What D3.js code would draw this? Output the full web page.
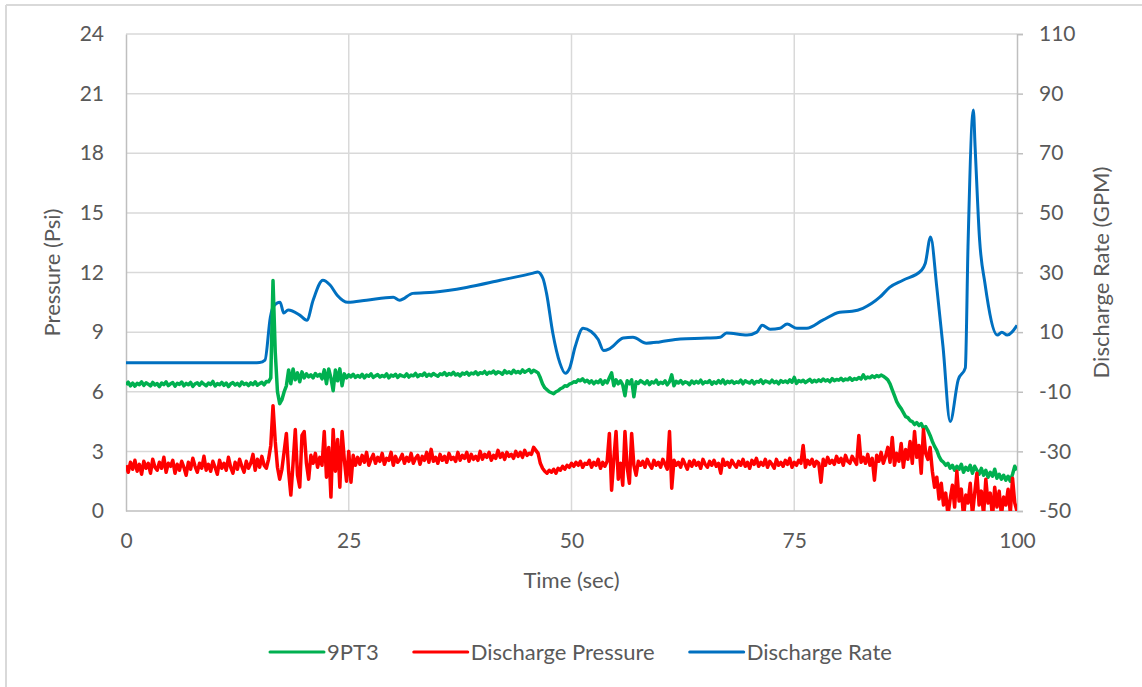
<!DOCTYPE html>
<html>
<head>
<meta charset="UTF-8">
<title>9PT3 / Discharge</title>
<script src="https://d3js.org/d3.v7.min.js"></script>
<style>
  body { margin: 0; background: #fff; }
  text { font-family: Lato, "Open Sans", sans-serif; fill: #595959; }
</style>
</head>
<body>
<div id="chart"></div>
<script>

// pressure samples, one every sampleStep seconds from t = 0 (8 per row = 2 s)
var sampleStep = 0.25;

var pt3 = [
  6.35, 6.48, 6.30, 6.44, 6.28, 6.42, 6.36, 6.50,
  6.32, 6.45, 6.38, 6.29, 6.47, 6.34, 6.41, 6.26,
  6.44, 6.36, 6.50, 6.31, 6.40, 6.46, 6.28, 6.43,
  6.37, 6.49, 6.30, 6.42, 6.35, 6.47, 6.27, 6.40,
  6.45, 6.33, 6.48, 6.38, 6.30, 6.44, 6.36, 6.52,
  6.29, 6.41, 6.35, 6.47, 6.32, 6.44, 6.26, 6.40,
  6.46, 6.34, 6.42, 6.30, 6.49, 6.37, 6.43, 6.31,
  6.45, 6.36, 6.50, 6.33, 6.41, 6.47, 6.35, 6.52,
  6.50, 6.70, 11.6, 8.00, 6.00, 5.40, 5.60, 6.00,
  6.30, 7.10, 6.40, 7.15, 6.60, 6.95, 6.50, 7.00,
  6.70, 6.90, 6.75, 6.85, 6.70, 6.92, 6.78, 6.88,
  6.65, 7.10, 6.40, 7.15, 6.70, 6.05, 7.10, 6.55,
  7.15, 6.30, 6.90, 6.70, 6.85, 6.75, 6.88, 6.72,
  6.82, 6.74, 6.88, 6.70, 6.84, 6.78, 6.90, 6.72,
  6.80, 6.86, 6.74, 6.82, 6.76, 6.90, 6.70, 6.84,
  6.78, 6.88, 6.72, 6.85, 6.80, 6.76, 6.90, 6.74,
  6.84, 6.80, 6.92, 6.76, 6.86, 6.82, 6.94, 6.78,
  6.88, 6.80, 6.92, 6.84, 6.78, 6.90, 6.86, 6.96,
  6.82, 6.92, 6.86, 6.98, 6.84, 6.90, 6.80, 6.94,
  6.88, 6.98, 6.84, 6.94, 6.90, 7.00, 6.86, 6.96,
  6.92, 7.02, 6.88, 6.98, 6.94, 7.04, 6.90, 7.00,
  6.96, 6.88, 7.06, 6.94, 7.00, 6.92, 7.08, 6.96,
  7.02, 6.94, 7.10, 6.98, 7.05, 7.12, 6.96, 7.08,
  7.02, 6.95, 6.70, 6.40, 6.20, 6.10, 6.00, 5.95,
  5.90, 6.00, 6.05, 6.15, 6.20, 6.30, 6.28, 6.38,
  6.42, 6.50, 6.48, 6.60, 6.55, 6.65, 6.50, 6.58,
  6.45, 6.55, 6.40, 6.52, 6.46, 6.60, 6.38, 6.55,
  6.45, 6.70, 6.95, 6.30, 6.60, 6.40, 6.55, 6.35,
  5.80, 6.55, 6.40, 6.60, 5.75, 6.50, 6.42, 6.56,
  6.48, 6.40, 6.55, 6.36, 6.50, 6.44, 6.58, 6.38,
  6.48, 6.42, 6.55, 6.35, 6.50, 6.85, 6.30, 6.52,
  6.44, 6.56, 6.40, 6.50, 6.46, 6.36, 6.54, 6.42,
  6.52, 6.44, 6.58, 6.40, 6.50, 6.46, 6.56, 6.38,
  6.50, 6.42, 6.56, 6.44, 6.60, 6.40, 6.52, 6.46,
  6.54, 6.42, 6.50, 6.46, 6.58, 6.40, 6.55, 6.48,
  6.44, 6.56, 6.40, 6.52, 6.48, 6.60, 6.42, 6.54,
  6.50, 6.44, 6.58, 6.46, 6.52, 6.40, 6.56, 6.48,
  6.54, 6.46, 6.60, 6.48, 6.72, 6.42, 6.56, 6.50,
  6.58, 6.46, 6.54, 6.62, 6.48, 6.58, 6.50, 6.60,
  6.52, 6.64, 6.54, 6.60, 6.50, 6.66, 6.56, 6.62,
  6.58, 6.68, 6.56, 6.64, 6.60, 6.70, 6.58, 6.66,
  6.62, 6.72, 6.64, 6.85, 6.66, 6.74, 6.70, 6.80,
  6.72, 6.82, 6.76, 6.84, 6.78, 6.70, 6.60, 6.40,
  6.10, 5.80, 5.50, 5.30, 5.15, 4.95, 4.75, 4.70,
  4.55, 4.50, 4.35, 4.45, 4.30, 4.40, 4.15, 4.25,
  4.05, 3.80, 3.50, 3.25, 3.05, 2.75, 2.55, 2.45,
  2.30, 2.40, 2.15, 2.30, 2.05, 2.25, 2.10, 2.35,
  1.95, 2.20, 2.05, 2.30, 1.90, 2.25, 2.05, 1.85,
  2.15, 1.80, 2.05, 1.70, 1.95, 1.75, 2.10, 1.65,
  1.85, 1.60, 1.80, 1.55, 1.75, 1.50, 1.85, 2.25,
  2.05
];

var dischargePressure = [
  2.30, 1.95, 2.45, 2.10, 2.55, 2.00, 2.35, 1.85,
  2.50, 2.15, 2.40, 1.90, 2.60, 2.20, 2.05, 2.45,
  2.15, 2.70, 1.95, 2.40, 2.25, 2.55, 1.90, 2.35,
  2.05, 2.50, 2.20, 1.80, 2.45, 2.10, 2.65, 2.25,
  1.95, 2.40, 2.15, 2.75, 2.05, 2.35, 2.00, 2.50,
  2.20, 1.85, 2.55, 2.15, 2.40, 2.05, 2.70, 2.20,
  1.90, 2.45, 2.10, 2.60, 2.25, 1.95, 2.50, 2.15,
  2.40, 2.85, 2.05, 2.60, 2.20, 2.75, 2.30, 2.15,
  2.60, 3.30, 5.30, 3.50, 2.20, 1.60, 2.10, 3.00,
  3.90, 2.00, 0.80, 2.40, 4.10, 1.80, 1.20, 3.80,
  4.00, 2.40, 1.60, 2.80, 2.40, 2.90, 2.20, 2.70,
  2.30, 4.00, 1.70, 3.20, 0.70, 4.10, 2.00, 3.60,
  1.20, 4.00, 2.60, 1.50, 3.00, 1.45, 2.80, 2.30,
  2.70, 2.35, 2.80, 2.45, 2.95, 2.30, 2.60, 2.85,
  2.40, 2.70, 2.50, 2.90, 2.35, 2.65, 2.55, 2.95,
  2.30, 2.75, 2.45, 2.60, 2.85, 2.40, 2.70, 2.50,
  2.90, 2.40, 2.65, 2.80, 2.35, 2.75, 2.55, 2.95,
  2.45, 3.10, 2.50, 2.70, 2.40, 2.85, 2.55, 2.75,
  2.45, 2.90, 2.60, 2.70, 2.50, 2.95, 2.55, 2.80,
  2.65, 2.95, 2.50, 2.85, 2.60, 2.75, 2.55, 3.00,
  2.60, 2.85, 2.70, 2.95, 2.55, 2.80, 2.65, 3.05,
  2.70, 2.90, 2.60, 2.95, 2.75, 2.85, 2.65, 3.00,
  2.75, 2.95, 2.70, 3.05, 2.80, 2.90, 2.85, 3.20,
  3.05, 2.90, 2.40, 2.15, 2.00, 1.90, 2.05, 1.95,
  2.10, 1.90, 2.15, 2.05, 2.25, 2.10, 2.30, 2.20,
  2.40, 2.25, 2.45, 2.30, 2.50, 2.20, 2.40, 2.35,
  2.55, 2.20, 2.45, 2.30, 2.60, 2.15, 2.45, 2.25,
  2.50, 3.90, 1.05, 2.60, 4.00, 1.60, 2.40, 1.30,
  4.00, 2.20, 1.40, 3.90, 2.30, 1.80, 2.50, 2.30,
  2.50, 2.20, 2.60, 2.35, 2.15, 2.55, 2.30, 2.45,
  2.20, 2.60, 2.35, 2.10, 4.00, 1.15, 2.55, 2.30,
  2.45, 2.20, 2.60, 2.35, 2.10, 2.50, 2.25, 2.55,
  2.30, 2.45, 2.15, 2.60, 2.35, 2.20, 2.50, 2.30,
  2.55, 2.25, 2.40, 1.90, 2.60, 2.30, 2.45, 2.20,
  2.55, 2.35, 2.20, 2.50, 2.30, 2.60, 2.25, 2.45,
  2.15, 2.55, 2.35, 2.65, 2.25, 2.45, 2.30, 2.60,
  2.20, 2.50, 2.35, 2.15, 2.60, 2.30, 2.45, 2.25,
  2.55, 2.35, 2.65, 2.20, 2.45, 2.30, 2.55, 2.40,
  3.30, 2.20, 2.55, 2.35, 2.60, 2.25, 2.50, 2.40,
  1.45, 2.60, 2.30, 2.70, 2.40, 2.55, 2.35, 2.75,
  2.45, 2.65, 2.30, 2.80, 2.50, 2.40, 2.75, 2.55,
  2.35, 3.80, 2.45, 2.70, 2.40, 2.85, 2.30, 2.65,
  1.55, 2.80, 2.50, 2.95, 2.40, 2.75, 3.20, 2.45,
  3.70, 2.30, 2.90, 2.50, 3.40, 2.20, 3.10, 2.60,
  3.50, 2.40, 4.00, 2.70, 3.30, 1.90, 4.10, 2.90,
  2.60, 3.20, 2.00, 1.20, 1.70, 0.60, 1.40, 0.30,
  0.90, -0.20, 0.60, 1.30, 0.20, 2.00, 0.50, 1.10,
  -0.30, 0.80, 0.40, 1.40, -0.20, 0.90, 1.90, 0.30,
  1.00, -0.20, 1.60, 0.40, 0.90, -0.30, 1.20, 0.20,
  1.00, -0.20, 0.70, 0.30, 1.10, -0.10, 1.65, 0.40,
  0.00
];

// discharge rate read at irregular times
var rateTime = [
  0, 5, 10, 14, 15, 15.6, 16.2, 16.5, 17.3, 17.7, 18.2, 19.5, 20.3, 21, 22.1, 22.9, 23.7, 24.9,
  27, 30, 30.7, 32.2, 34.5, 38.2, 42, 45.7, 46.2, 46.8, 47.2, 47.9, 48.7, 49.3, 49.8, 50.4,
  51.3, 52.2, 53, 53.6, 54.3, 55.8, 56.9, 58.4, 59.9, 62.2, 65.2, 66.7, 67.4, 69.7, 70.8,
  71.4, 72.3, 73.4, 74.2, 75.3, 76.4, 78.2, 80.1, 81.5, 82.7, 84.6, 85.7, 87.2, 89.3, 89.7,
  90.3, 91, 91.7, 92.5, 93.4, 94.2, 94.5, 95.1, 95.3, 95.8, 96.4, 97.8, 98.3, 98.9, 100
];
var rateGpm = [
  -0.3, -0.3, -0.3, -0.3, -0.2, 0.6, 15, 18.4, 20, 16.4, 17.4, 15.7, 14, 20.7, 27.4, 25.8, 22.4, 20,
  20.7, 21.7, 20.7, 23, 23.4, 25, 27.4, 29.8, 30.2, 28, 23, 9.7, -0.4, -3.8, -2, 5,
  11.3, 10.2, 7.5, 3.8, 4.5, 8, 8.3, 6.3, 6.7, 7.7, 8, 8.3, 9.7, 9, 10,
  12.3, 11, 11.3, 12.7, 11.3, 11.3, 14, 16.7, 17, 18, 21.7, 25, 27.4, 30.8, 33,
  41.9, 25, 5, -20, -6, -2, 38.5, 84.5, 72, 41, 26.4, 9, 10, 9, 12.3
];

var timeTicks = [0, 25, 50, 75, 100];
var pressureTicks = [0, 3, 6, 9, 12, 15, 18, 21, 24];
var rateTicks = [-50, -30, -10, 10, 30, 50, 70, 90, 110];

var seriesNames = ["9PT3", "Discharge Pressure", "Discharge Rate"];
var seriesColors = ["#00b050", "#ff0000", "#0070c0"];


var W = 1142, H = 687;
var plot = {left: 126, right: 1017, top: 34, bottom: 511};

var svg = d3.select("#chart").append("svg")
    .attr("width", W)
    .attr("height", H);

svg.append("rect").attr("width", W).attr("height", H).attr("fill", "#fff");

// outer chart frame (only top and left edges show)
svg.append("line").attr("x1", 6).attr("x2", W).attr("y1", 5).attr("y2", 5)
    .attr("stroke", "#d9d9d9").attr("stroke-width", 2);
svg.append("line").attr("x1", 6).attr("x2", 6).attr("y1", 5).attr("y2", H)
    .attr("stroke", "#d9d9d9").attr("stroke-width", 2);

var x = d3.scaleLinear().domain([0, 100]).range([plot.left, plot.right]);
var y = d3.scaleLinear().domain([0, 24]).range([plot.bottom, plot.top]);
var y2 = d3.scaleLinear().domain([-50, 110]).range([plot.bottom, plot.top]);

// grid
svg.append("g")
    .selectAll("line")
    .data(pressureTicks.slice(1))
    .enter().append("line")
    .attr("x1", plot.left).attr("x2", plot.right)
    .attr("y1", function(d) { return y(d); })
    .attr("y2", function(d) { return y(d); })
    .attr("stroke", "#d9d9d9").attr("stroke-width", 1.5);

svg.append("g")
    .selectAll("line")
    .data(timeTicks.slice(1, -1))
    .enter().append("line")
    .attr("x1", function(d) { return x(d); })
    .attr("x2", function(d) { return x(d); })
    .attr("y1", plot.top).attr("y2", plot.bottom)
    .attr("stroke", "#d9d9d9").attr("stroke-width", 1.5);

// axes
var plain = function(d) { return String(d); };

var xAxis = svg.append("g")
    .attr("transform", "translate(0," + plot.bottom + ")")
    .call(d3.axisBottom(x).tickValues(timeTicks).tickFormat(plain).tickSize(0).tickPadding(22));

var yAxis = svg.append("g")
    .attr("transform", "translate(" + plot.left + ",0)")
    .call(d3.axisLeft(y).tickValues(pressureTicks).tickFormat(plain).tickSize(0).tickPadding(22));

var y2Axis = svg.append("g")
    .attr("transform", "translate(" + plot.right + ",0)")
    .call(d3.axisRight(y2).tickValues(rateTicks).tickFormat(plain).tickSize(6).tickPadding(16));

[xAxis, yAxis, y2Axis].forEach(function(g) {
  g.select(".domain").attr("stroke", "#bfbfbf").attr("stroke-width", 1.5);
  g.selectAll(".tick line").attr("stroke", "#bfbfbf").attr("stroke-width", 1.5);
  g.selectAll(".tick text")
    .attr("fill", "#595959")
    .style("font-family", "Lato, 'Open Sans', sans-serif")
    .style("font-size", "21px");
});
xAxis.select(".domain").attr("d", "M" + plot.left + ",0H" + plot.right);

// axis titles
svg.append("text")
    .attr("x", (plot.left + plot.right) / 2).attr("y", 588)
    .attr("text-anchor", "middle")
    .style("font-size", "22px")
    .text("Time (sec)");

svg.append("text")
    .attr("transform", "translate(60," + (plot.top + plot.bottom) / 2 + ") rotate(-90)")
    .attr("text-anchor", "middle")
    .style("font-size", "22px")
    .text("Pressure (Psi)");

svg.append("text")
    .attr("transform", "translate(1109," + (plot.top + plot.bottom) / 2 + ") rotate(-90)")
    .attr("text-anchor", "middle")
    .style("font-size", "22px")
    .text("Discharge Rate (GPM)");

// lines
svg.append("clipPath").attr("id", "plotClip")
  .append("rect")
    .attr("x", plot.left).attr("y", plot.top)
    .attr("width", plot.right - plot.left)
    .attr("height", plot.bottom - plot.top);

var pressureLine = d3.line()
    .x(function(d, i) { return x(i * sampleStep); })
    .y(function(d) { return y(d); });

var rateLine = d3.line()
    .x(function(d, i) { return x(rateTime[i]); })
    .y(function(d) { return y2(d); })
    .curve(d3.curveMonotoneX);

var lines = svg.append("g").attr("clip-path", "url(#plotClip)");

lines.append("path")
    .datum(rateGpm)
    .attr("d", rateLine)
    .attr("fill", "none")
    .attr("stroke", seriesColors[2])
    .attr("stroke-width", 3)
    .attr("stroke-linejoin", "round");

lines.append("path")
    .datum(pt3)
    .attr("d", pressureLine)
    .attr("fill", "none")
    .attr("stroke", seriesColors[0])
    .attr("stroke-width", 3.5)
    .attr("stroke-linejoin", "round");

lines.append("path")
    .datum(dischargePressure)
    .attr("d", pressureLine)
    .attr("fill", "none")
    .attr("stroke", seriesColors[1])
    .attr("stroke-width", 3.5)
    .attr("stroke-linejoin", "round");

// legend
var legend = svg.append("g").attr("transform", "translate(0,652)");
var lx = 270;
seriesNames.forEach(function(name, i) {
  legend.append("line")
      .attr("x1", lx).attr("x2", lx + 54)
      .attr("y1", 0).attr("y2", 0)
      .attr("stroke", seriesColors[i])
      .attr("stroke-width", 3)
      .attr("stroke-linecap", "round");
  var t = legend.append("text")
      .attr("x", lx + 57).attr("y", 0)
      .attr("dy", "0.35em")
      .style("font-size", "22px")
      .text(name);
  lx += 57 + t.node().getComputedTextLength() + 35;
});

</script>
</body>
</html>
